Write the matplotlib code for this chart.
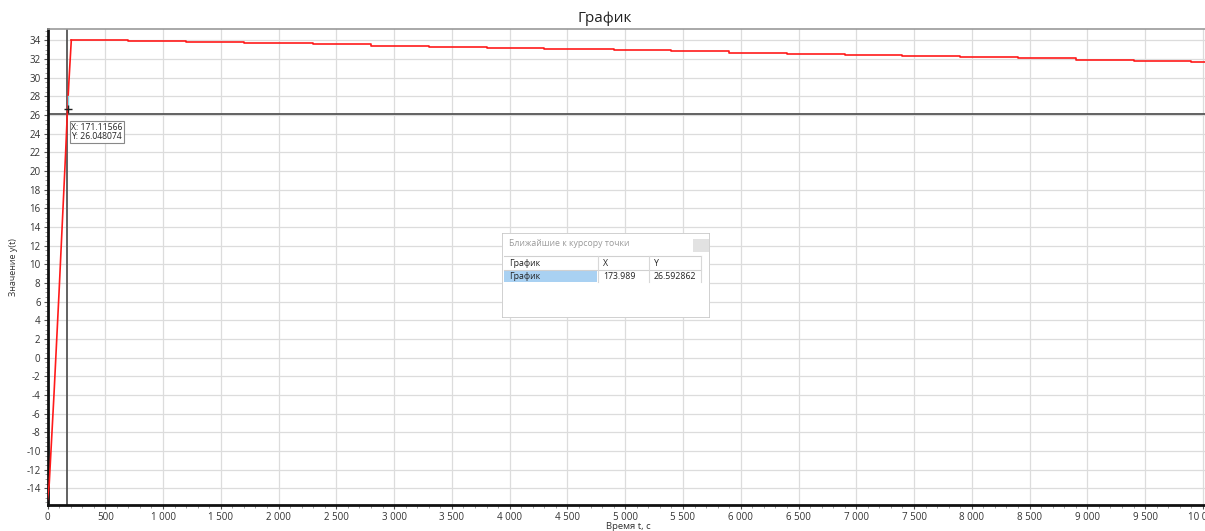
import matplotlib.pyplot as plt
from matplotlib.ticker import MultipleLocator, FuncFormatter
from matplotlib.patches import Rectangle

plt.rcParams['font.family'] = ['Open Sans', 'DejaVu Sans']

# rising part of the curve
t_rise = [0, 15, 56, 100, 157, 171, 185, 206]
y_rise = [-15.2, -13.5, -4.0, 7.0, 22.0, 26.05, 29.5, 34.0]

# slowly falling plateau (stair-stepped)
t_flat = [206, 700, 1200, 1700, 2300, 2800, 3300, 3800, 4300, 4900, 5400,
          5900, 6400, 6900, 7400, 7900, 8400, 8900, 9400, 9900, 10100]
y_flat = [34.0, 33.9, 33.8, 33.68, 33.55, 33.42, 33.3, 33.17, 33.05, 32.92, 32.8,
          32.68, 32.55, 32.42, 32.3, 32.17, 32.05, 31.92, 31.8, 31.68, 31.6]

cursor_x = 171.11566
cursor_y = 26.048074
near_x = 173.989
near_y = 26.592862

fig = plt.figure(figsize=(12.05, 5.31), dpi=100)
ax = fig.add_axes([47.5 / 1205, 1 - 505 / 531, 1 - 47.5 / 1205 + 0.004, 476 / 531])

ax.plot(t_rise, y_rise, color="#ff1a1a", lw=1.2, zorder=3)
ax.plot(t_flat, y_flat, color="#ff1a1a", lw=1.2, drawstyle="steps-post", zorder=3)
ax.plot([near_x, near_x], [near_y, 28.0], color="#7fd8e8", lw=1.0, zorder=4)

ax.set_xlim(0, 10060)
ax.set_ylim(-15.8, 35.2)

ax.xaxis.set_major_locator(MultipleLocator(500))
ax.xaxis.set_minor_locator(MultipleLocator(100))
ax.yaxis.set_major_locator(MultipleLocator(2))
ax.yaxis.set_minor_locator(MultipleLocator(0.5))
ax.xaxis.set_major_formatter(FuncFormatter(lambda v, p: f"{int(v):,}".replace(",", " ")))
ax.yaxis.set_major_formatter(FuncFormatter(lambda v, p: f"{int(v)}"))
ax.tick_params(axis="both", which="major", labelsize=7, length=3, width=0.8,
               colors="#555555", labelcolor="#333333", pad=2)
ax.tick_params(axis="both", which="minor", length=2, width=0.5, colors="#777777")
ax.grid(True, which="major", color="#dcdcdc", lw=0.9)
ax.set_axisbelow(True)

ax.spines["left"].set_linewidth(2.0)
ax.spines["bottom"].set_linewidth(2.0)
ax.spines["left"].set_color("#111111")
ax.spines["bottom"].set_color("#111111")
ax.spines["top"].set_color("#999999")
ax.spines["top"].set_linewidth(1.2)
ax.spines["right"].set_visible(False)

ax.set_xlabel("Время t, с", fontsize=6.8, labelpad=-1, color="#333333")
ax.set_ylabel("Значение y(t)", fontsize=6.5, labelpad=6, color="#333333")
fig.text(0.502, 1 - 18 / 531, "График", ha="center", va="center", fontsize=11, color="#222222")

# cursor crosshair
ax.axvline(cursor_x, color="#555555", lw=1.3, zorder=2)
ax.axhline(cursor_y, color="#555555", lw=1.3, zorder=2)
ax.plot(near_x, near_y, marker="+", color="#222222", ms=6, mew=1.0, zorder=5)
ax.annotate(f"X: {cursor_x}\nY: {cursor_y}", xy=(cursor_x, cursor_y),
            xytext=(4, -27), textcoords="offset pixels", fontsize=6.2,
            color="#222222", ha="left", va="bottom", linespacing=1.1,
            bbox=dict(boxstyle="square,pad=0.2", fc="white", ec="#888888", lw=0.8),
            zorder=6)

# nearest-points popup
px, py, pw, ph = 502, 233, 208, 85
pop = fig.add_axes([px / 1205, 1 - (py + ph) / 531, pw / 1205, ph / 531])
pop.set_xlim(0, pw)
pop.set_ylim(ph, 0)
pop.axis("off")
pop.add_patch(Rectangle((0, 0), pw, ph, fc="white", ec="#c8c8c8", lw=1.2))
pop.add_patch(Rectangle((191, 6), 16, 13, fc="#e2e2e2", ec="none"))
pop.text(7, 11, "Ближайшие к курсору точки", fontsize=6.3, color="#9a9a9a", va="center")
pop.add_patch(Rectangle((2, 37.5), 93, 11.5, fc="#a9d1f2", ec="none"))
pop.plot([2, 199], [23, 23], color="#d0d0d0", lw=0.8)
pop.plot([2, 199], [36.5, 36.5], color="#d0d0d0", lw=0.8)
for sx in [96, 147, 199]:
    pop.plot([sx, sx], [23, 49], color="#d8d8d8", lw=0.8)
pop.text(7, 30.5, "График", fontsize=6.3, color="#222222", va="center")
pop.text(101, 30.5, "X", fontsize=6.3, color="#222222", va="center")
pop.text(152, 30.5, "Y", fontsize=6.3, color="#222222", va="center")
pop.text(7, 43.5, "График", fontsize=6.3, color="#222222", va="center")
pop.text(101, 43.5, f"{near_x}", fontsize=6.3, color="#222222", va="center")
pop.text(152, 43.5, f"{near_y}", fontsize=6.3, color="#222222", va="center")

fig.savefig("out.png", dpi=100)
